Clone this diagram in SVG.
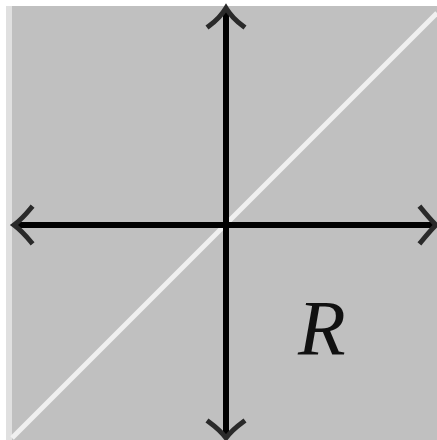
<svg xmlns="http://www.w3.org/2000/svg" width="437" height="440" viewBox="0 0 437 440">
<defs>
<style>
.axis{stroke:#000;stroke-width:6;fill:none}
.head{stroke:#2a2a2a;stroke-width:5;fill:none;stroke-linecap:square;stroke-linejoin:miter}
.lbl{font-family:"Liberation Serif","DejaVu Serif",serif;font-style:italic;font-size:78px;fill:#111}
</style>
</defs>
<rect x="0" y="0" width="437" height="440" fill="#ffffff"/>
<rect x="6" y="6" width="6" height="434" fill="#e0e0e0"/>
<rect x="12" y="6" width="425" height="434" fill="#c0c0c0"/>
<g id="diagonal">
<line x1="12" y1="438" x2="437" y2="13" stroke="#f0f0f0" stroke-width="5"/>
</g>
<g id="connectors">
<line class="axis" x1="226" y1="10" x2="226" y2="436"/>
<line class="axis" x1="16" y1="225" x2="434" y2="225"/>
<path class="head" d="M209,26 Q220,18 226,8 Q232,18 243,26"/>
<path class="head" d="M209,422 Q220,430 226,438 Q232,430 243,422"/>
<path class="head" d="M31,208 Q22,219 14,225 Q22,231 31,242"/>
<path class="head" d="M421,208 Q430,219 436,225 Q430,231 421,242"/>
</g>
<g id="label">
<text class="lbl" x="298" y="354" textLength="60">R</text>
</g>
</svg>
